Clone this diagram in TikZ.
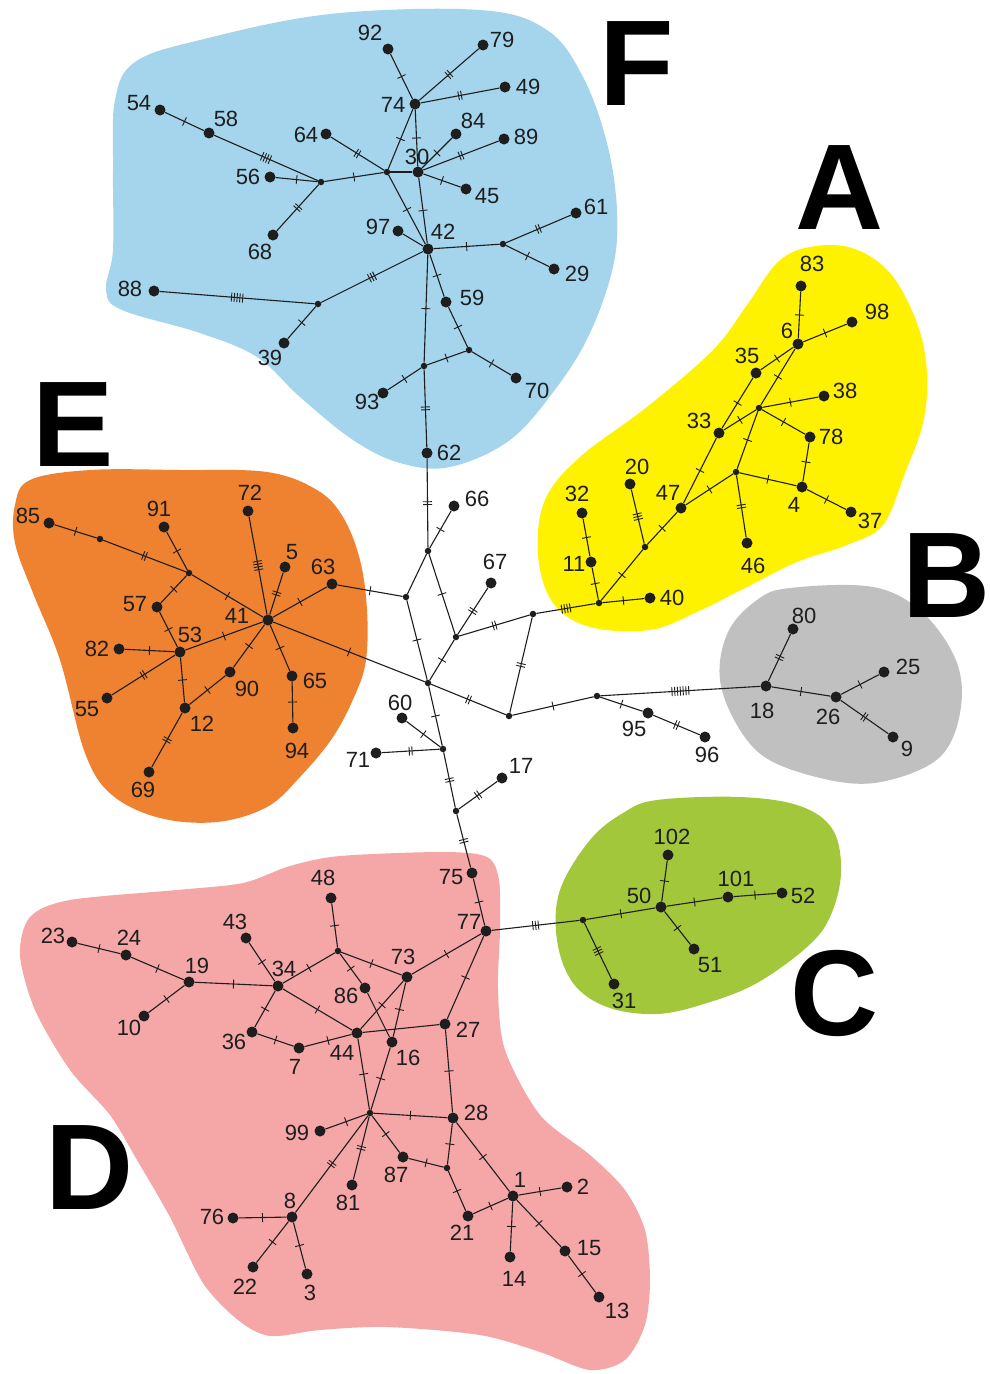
\documentclass[tikz,border=0pt]{standalone}
\usepackage{fontspec}
\setmainfont{Liberation Sans}
\usetikzlibrary{decorations.markings}
\definecolor{cF}{RGB}{164,213,236}
\definecolor{cE}{RGB}{238,130,48}
\definecolor{cA}{RGB}{255,242,0}
\definecolor{cB}{RGB}{192,192,192}
\definecolor{cC}{RGB}{163,199,58}
\definecolor{cD}{RGB}{245,166,166}
\definecolor{ink}{RGB}{30,30,30}
\newcommand\hapx[5]{\node[hap] (h#1) at (#2,#3) {}; \node[lbl] (l#1) at (#4,#5) {#1};}
\newcommand\medv[3]{\node[mvx] (#1) at (#2,#3) {};}
\newcommand\edg[3]{\draw[ed,tk=#3] (#1) -- (#2);}
\newcommand\edz[2]{\draw[ed] (#1) -- (#2);}
\tikzset{
  tk/.style={postaction={decorate,decoration={markings,mark=at position 0.5 with {\foreach \k in {1,...,#1}{\draw[ink,line width=0.9pt] ({(\k-(#1+1)/2)*2.8},-4.5)--({(\k-(#1+1)/2)*2.8},4.5);}}}}},
  hap/.style={circle,fill=ink,inner sep=0pt,minimum size=11pt},
  mvx/.style={circle,fill=ink,inner sep=0pt,minimum size=6.5pt},
  lbl/.style={font=\fontsize{22}{22}\selectfont,text=ink,inner sep=0pt},
  ed/.style={draw=ink,line width=1.1pt},
  big/.style={font=\fontsize{122}{122}\selectfont\bfseries,text=black,inner sep=0pt}
}
\begin{document}
\begin{tikzpicture}[x=1pt,y=-1pt]
\useasboundingbox (0,0) rectangle (990,1374);
\fill[white] (0,0) rectangle (990,1374);
% blobs
\fill[cF] plot[smooth cycle,tension=0.6] coordinates {(115,100) (135,62) (200,40) (330,14) (480,10) (547,30) (583,77) (607,143) (617,210) (613,267) (590,333) (557,387) (510,440) (450,467) (400,463) (353,440) (300,397) (257,357) (200,333) (122,310) (106,290) (113,250) (113,170)};
\fill[cE] plot[smooth cycle,tension=0.6] coordinates {(15,505) (30,480) (90,470) (180,470) (267,472) (317,490) (343,517) (360,560) (367,610) (366,660) (355,695) (333,737) (300,777) (267,807) (217,822) (160,818) (112,795) (85,753) (60,660) (33,593) (15,543)};
\fill[cA] plot[smooth cycle,tension=0.6] coordinates {(810,247) (852,248) (890,273) (917,323) (927,373) (923,423) (905,473) (883,525) (847,545) (797,562) (747,587) (697,612) (650,630) (590,627) (553,603) (538,555) (545,500) (580,457) (647,407) (713,350) (747,305) (778,262)};
\fill[cB] plot[smooth cycle,tension=0.6] coordinates {(757,600) (790,588) (873,587) (923,613) (957,663) (960,713) (940,757) (890,780) (840,782) (773,762) (740,730) (720,680) (728,632)};
\fill[cC] plot[smooth cycle,tension=0.6] coordinates {(623,813) (657,800) (740,797) (800,806) (833,830) (841,873) (830,917) (807,947) (757,983) (707,1003) (657,1014) (607,1007) (573,983) (557,940) (560,890) (590,840)};
\fill[cD] plot[smooth cycle,tension=0.5] coordinates {(30,917) (70,900) (177,890) (243,883) (290,866) (340,856) (443,852) (487,857) (499,880) (500,930) (498,990) (505,1050) (540,1115) (590,1155) (625,1190) (645,1230) (650,1280) (645,1325) (625,1360) (590,1370) (540,1352) (480,1335) (387,1327) (320,1330) (270,1336) (238,1320) (203,1283) (170,1217) (137,1160) (110,1115) (70,1070) (35,1010) (20,955)};
% big letters
\node[big] (LF) at (637,64) {F};
\node[big] (LA) at (840,188) {A};
\node[big] (LB) at (947,576) {B};
\node[big] (LC) at (835,993) {C};
\node[big] (LD) at (90,1168) {D};
\node[big] (LE) at (73,425) {E};
% ---------- F nodes
\medv{f1}{321}{182} \medv{f2}{387}{172} \medv{f3}{503}{244} \medv{f4}{469}{350} \medv{f5}{424}{366} \medv{f6}{318}{304}
\hapx{54}{160}{110}{139}{103}
\hapx{58}{209}{133}{226}{119}
\hapx{56}{270}{177}{248}{177}
\hapx{68}{273}{235}{260}{252}
\hapx{64}{326}{134}{306}{135}
\hapx{30}{418}{172}{417}{157}
\hapx{74}{415}{104}{393}{105}
\hapx{92}{388}{49}{370}{33}
\hapx{79}{483}{45}{502}{40}
\hapx{49}{505}{87}{528}{87}
\hapx{84}{456}{134}{473}{121}
\hapx{89}{504}{139}{526}{137}
\hapx{45}{466}{189}{487}{196}
\hapx{61}{576}{213}{596}{207}
\hapx{97}{398}{231}{378}{227}
\hapx{42}{428}{249}{443}{232}
\hapx{29}{554}{269}{577}{274}
\hapx{59}{446}{302}{472}{298}
\hapx{70}{516}{378}{537}{391}
\hapx{93}{383}{393}{367}{402}
\hapx{62}{427}{453}{449}{453}
\hapx{88}{154}{291}{130}{289}
\hapx{39}{284}{343}{270}{358}
% ---------- center
\medv{c1}{428}{551} \medv{c2}{406}{597} \medv{c3}{456}{637} \medv{c4}{428}{683} \medv{c5}{533}{614} \medv{c6}{509}{716} \medv{c7}{597}{696} \medv{c8}{443}{749} \medv{c9}{456}{811}
\hapx{66}{454}{506}{477}{499}
\hapx{67}{491}{583}{495}{562}
\hapx{60}{402}{718}{400}{703}
\hapx{71}{376}{753}{358}{760}
\hapx{17}{502}{778}{521}{766}
\hapx{95}{648}{713}{634}{729}
\hapx{96}{705}{737}{707}{755}
% ---------- A
\medv{a0}{599}{603} \medv{a1}{645}{547} \medv{a2}{759}{408} \medv{a3}{736}{472}
\hapx{11}{591}{562}{574}{564}
\hapx{32}{582}{513}{577}{494}
\hapx{40}{650}{598}{672}{598}
\hapx{20}{630}{484}{637}{467}
\hapx{47}{681}{508}{668}{493}
\hapx{33}{719}{433}{699}{421}
\hapx{35}{756}{373}{747}{356}
\hapx{6}{798}{344}{787}{331}
\hapx{83}{801}{286}{812}{264}
\hapx{98}{852}{322}{877}{312}
\hapx{38}{824}{396}{845}{391}
\hapx{78}{810}{437}{831}{437}
\hapx{4}{802}{487}{794}{505}
\hapx{37}{851}{512}{870}{521}
\hapx{46}{747}{543}{753}{566}
% ---------- B
\hapx{18}{766}{686}{762}{711}
\hapx{80}{793}{629}{804}{616}
\hapx{26}{836}{697}{828}{717}
\hapx{25}{884}{672}{908}{667}
\hapx{9}{893}{737}{907}{749}
% ---------- C
\medv{g1}{583}{920}
\hapx{50}{661}{907}{639}{896}
\hapx{102}{668}{855}{672}{837}
\hapx{101}{728}{897}{736}{879}
\hapx{52}{782}{893}{803}{896}
\hapx{51}{694}{949}{710}{965}
\hapx{31}{614}{984}{624}{1001}
% ---------- E
\medv{e1}{100}{539} \medv{e2}{189}{573}
\hapx{85}{49}{523}{28}{516}
\hapx{91}{164}{527}{159}{509}
\hapx{41}{268}{620}{237}{616}
\hapx{57}{157}{607}{135}{604}
\hapx{53}{180}{652}{190}{635}
\hapx{82}{119}{649}{97}{649}
\hapx{55}{107}{698}{87}{709}
\hapx{12}{185}{708}{202}{724}
\hapx{69}{149}{772}{143}{790}
\hapx{90}{230}{672}{247}{689}
\hapx{72}{248}{511}{250}{493}
\hapx{5}{285}{567}{292}{552}
\hapx{63}{332}{584}{323}{567}
\hapx{65}{292}{676}{315}{681}
\hapx{94}{293}{728}{297}{751}
% ---------- D
\medv{d1}{338}{951} \medv{d2}{370}{1113} \medv{d3}{447}{1168}
\hapx{75}{472}{873}{451}{877}
\hapx{77}{486}{931}{469}{922}
\hapx{23}{72}{942}{53}{936}
\hapx{24}{126}{955}{129}{938}
\hapx{19}{189}{982}{197}{966}
\hapx{10}{144}{1016}{129}{1028}
\hapx{34}{278}{986}{284}{969}
\hapx{43}{246}{938}{235}{922}
\hapx{36}{252}{1032}{234}{1042}
\hapx{7}{299}{1048}{295}{1067}
\hapx{44}{357}{1033}{342}{1053}
\hapx{48}{331}{898}{323}{878}
\hapx{73}{407}{977}{403}{957}
\hapx{86}{365}{988}{346}{996}
\hapx{16}{392}{1042}{408}{1058}
\hapx{27}{445}{1024}{468}{1030}
\hapx{28}{453}{1118}{476}{1113}
\hapx{99}{320}{1131}{297}{1133}
\hapx{81}{352}{1185}{348}{1203}
\hapx{87}{403}{1157}{396}{1175}
\hapx{21}{468}{1216}{462}{1233}
\hapx{8}{292}{1217}{290}{1201}
\hapx{76}{233}{1218}{212}{1217}
\hapx{22}{253}{1267}{245}{1287}
\hapx{3}{307}{1274}{310}{1293}
\hapx{1}{513}{1196}{520}{1180}
\hapx{2}{567}{1187}{583}{1187}
\hapx{14}{510}{1257}{514}{1279}
\hapx{15}{565}{1251}{589}{1248}
\hapx{13}{599}{1297}{617}{1311}
% ---------- edges F
\edg{h54}{h58}{1} \edg{h58}{f1}{4} \edg{h56}{f1}{1} \edg{f1}{h68}{2} \edg{f1}{f2}{1}
\edg{h64}{f2}{2} \edz{f2}{h30} \edg{f2}{h74}{1} \edg{f2}{h42}{1}
\edg{h74}{h92}{1} \edg{h74}{h79}{2} \edg{h74}{h49}{2} \edg{h74}{h30}{1}
\edg{h30}{h84}{1} \edg{h30}{h89}{2} \edg{h30}{h45}{1} \edg{h30}{h42}{1}
\edz{h42}{h97} \edg{h42}{f3}{1} \edg{f3}{h61}{2} \edg{f3}{h29}{1}
\edg{h42}{h59}{1} \edg{h59}{f4}{1} \edg{f4}{h70}{1} \edg{f4}{f5}{1} \edg{f5}{h93}{1}
\edg{h42}{f5}{1} \edg{f5}{h62}{2} \edg{h42}{f6}{3} \edg{f6}{h88}{5} \edg{f6}{h39}{1}
% ---------- edges center
\edg{h62}{c1}{2} \edg{c1}{h66}{1} \edz{c1}{c2} \edg{c1}{c3}{1} \edg{c3}{h67}{2}
\edg{c2}{c4}{1} \edg{c3}{c4}{1} \edg{c3}{c5}{2} \edg{c5}{a0}{4} \edg{c4}{c6}{2} \edg{c5}{c6}{2}
\edg{c6}{c7}{1} \edg{c7}{h95}{1} \edg{h95}{h96}{2} \edg{c7}{h18}{7}
\edg{h63}{c2}{1} \edg{h41}{c4}{1} \edg{c4}{c8}{1} \edg{h60}{c8}{1} \edg{h71}{c8}{2}
\edg{c8}{c9}{2} \edg{c9}{h17}{2} \edg{c9}{h75}{2} \edg{h75}{h77}{1} \edg{h77}{g1}{3}
% ---------- edges A
\edg{a0}{h11}{1} \edg{h11}{h32}{1} \edg{a0}{h40}{1} \edg{a0}{a1}{1} \edg{a1}{h20}{3}
\edg{a1}{h47}{1} \edg{h47}{h33}{1} \edg{h33}{h35}{1} \edg{h35}{h6}{1} \edg{h6}{h83}{1}
\edg{h6}{h98}{1} \edg{h33}{a2}{1} \edg{a2}{h38}{1} \edg{a2}{h78}{1} \edg{h6}{a2}{1}
\edg{a2}{a3}{1} \edg{a3}{h47}{1} \edg{a3}{h4}{1} \edg{h4}{h78}{1} \edg{h4}{h37}{1} \edg{a3}{h46}{2}
% ---------- edges B
\edg{h18}{h80}{2} \edg{h18}{h26}{1} \edg{h26}{h25}{1} \edg{h26}{h9}{2}
% ---------- edges C
\edg{g1}{h50}{1} \edg{h50}{h102}{1} \edg{h50}{h101}{1} \edg{h101}{h52}{1} \edg{h50}{h51}{1} \edg{g1}{h31}{3}
% ---------- edges E
\edg{h85}{e1}{1} \edg{e1}{e2}{2} \edg{e2}{h91}{1} \edg{e2}{h41}{1} \edg{e2}{h57}{1}
\edg{h57}{h53}{1} \edg{h82}{h53}{1} \edg{h53}{h55}{2} \edg{h53}{h12}{1} \edg{h12}{h69}{2}
\edg{h12}{h90}{1} \edg{h90}{h41}{1} \edg{h53}{h41}{1} \edg{h72}{h41}{4} \edg{h5}{h41}{2}
\edg{h41}{h63}{1} \edg{h41}{h65}{1} \edg{h65}{h94}{1}
% ---------- edges D
\edg{h23}{h24}{1} \edg{h24}{h19}{1} \edg{h19}{h10}{1} \edg{h19}{h34}{1} \edg{h43}{h34}{1}
\edg{h34}{h36}{1} \edg{h36}{h7}{1} \edg{h7}{h44}{1} \edg{h34}{h44}{1} \edg{h34}{d1}{1}
\edg{h48}{d1}{1} \edg{d1}{h73}{1} \edg{d1}{h86}{1} \edz{h86}{h16} \edg{h73}{h77}{1}
\edg{h73}{h44}{1} \edg{h73}{h16}{1} \edz{h44}{h27} \edg{h77}{h27}{1} \edg{h27}{h28}{1}
\edg{h44}{d2}{1} \edg{h16}{d2}{1} \edg{d2}{h28}{1} \edg{d2}{h99}{1} \edg{d2}{h81}{2}
\edg{d2}{h87}{1} \edg{h87}{d3}{1} \edg{h28}{d3}{1} \edg{d3}{h21}{1} \edg{d2}{h8}{2}
\edg{h8}{h76}{1} \edg{h8}{h22}{1} \edg{h8}{h3}{1} \edg{h21}{h1}{1} \edg{h28}{h1}{1}
\edg{h1}{h2}{1} \edg{h1}{h14}{1} \edg{h1}{h15}{1} \edg{h15}{h13}{1}
\end{tikzpicture}
\end{document}
